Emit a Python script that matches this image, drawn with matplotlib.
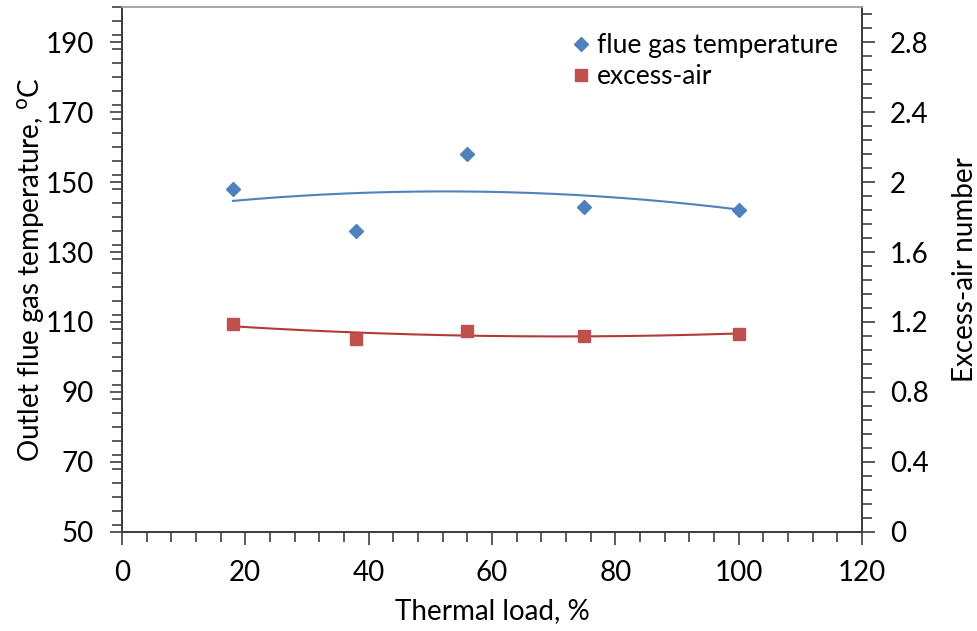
import matplotlib
matplotlib.use("Agg")
import matplotlib.pyplot as plt
from matplotlib.ticker import MultipleLocator
import numpy as np

# data
thermal_load = [18, 38, 56, 75, 100]
flue_gas_temp = [148, 136, 158, 143, 142]
excess_air = [1.19, 1.10, 1.15, 1.12, 1.13]

blue = "#4F81BD"
red = "#C0504D"
red_line = "#B03B38"
axis_col = "#404040"

plt.rcParams["font.family"] = ["Lato", "DejaVu Sans"]

fig = plt.figure(figsize=(9.78, 6.31), dpi=100)
ax = fig.add_axes([0.1247, 0.1569, 0.7567, 0.8320])
ax2 = ax.twinx()

# flue gas temperature with 2nd order trend line
h1, = ax.plot(thermal_load, flue_gas_temp, linestyle="none", marker="D",
              markersize=6.8, color=blue, label="flue gas temperature", zorder=3)
fit1 = np.polyfit(thermal_load, flue_gas_temp, 2)
xs = np.linspace(min(thermal_load), max(thermal_load), 200)
ax.plot(xs, np.polyval(fit1, xs), color=blue, linewidth=1.5, zorder=2)

# excess air number with 2nd order trend line
h2, = ax2.plot(thermal_load, excess_air, linestyle="none", marker="s",
               markersize=8.5, color=red, label="excess-air", zorder=3)
fit2 = np.polyfit(thermal_load, excess_air, 2)
ax2.plot(xs, np.polyval(fit2, xs), color=red_line, linewidth=1.5, zorder=2)

ax.set_xlim(0, 120)
ax.set_ylim(50, 200)
ax2.set_ylim(0, 3.0)

ax.xaxis.set_major_locator(MultipleLocator(20))
ax.xaxis.set_minor_locator(MultipleLocator(4))
ax.set_yticks(np.arange(50, 191, 20))
ax.yaxis.set_minor_locator(MultipleLocator(4))
ax2.set_yticks(np.arange(0, 2.81, 0.4))
ax2.set_yticklabels(["0", "0.4", "0.8", "1.2", "1.6", "2", "2.4", "2.8"])
ax2.yaxis.set_minor_locator(MultipleLocator(0.08))

for a in (ax, ax2):
    a.tick_params(which="major", direction="out", length=9, width=1.2,
                  color=axis_col, labelsize=20, labelcolor="black", pad=11)
    a.tick_params(which="minor", direction="out", length=7, width=1.2,
                  color=axis_col)
    for side in ("left", "bottom", "right"):
        a.spines[side].set_color(axis_col)
        a.spines[side].set_linewidth(1.4)
    a.spines["top"].set_color("#A6A6A6")
    a.spines["top"].set_linewidth(1.2)

ax.set_xlabel("Thermal load, %", fontsize=20, labelpad=9)
ax.set_ylabel("Outlet flue gas temperature, $^{\\mathrm{o}}$C", fontsize=20, labelpad=-1)
ax2.set_ylabel("Excess-air number", fontsize=20, labelpad=17)

ax.legend(handles=[h1, h2], loc="upper right", frameon=False, fontsize=19,
          handlelength=0.6, handletextpad=0.3, labelspacing=0.22,
          bbox_to_anchor=(1.0, 0.995))

fig.savefig("out.png", dpi=100)
